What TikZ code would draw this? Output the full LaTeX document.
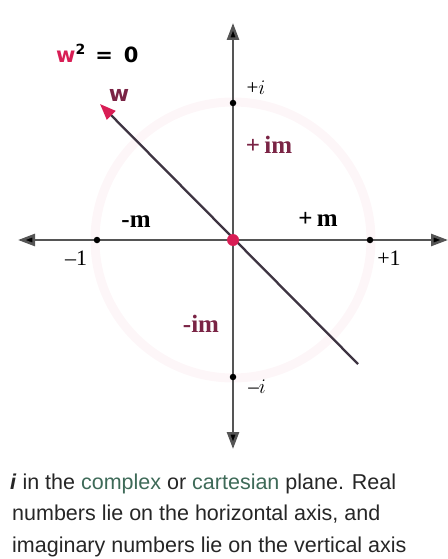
\documentclass[tikz,border=0pt]{standalone}
\usepackage{fontspec}
\setmainfont{Liberation Sans}
\newfontfamily\serifnum{Liberation Serif}
\newfontfamily\verd{DejaVu Sans}
\usetikzlibrary{arrows.meta}
\definecolor{axisgray}{HTML}{555555}
\definecolor{crim}{HTML}{D81E55}
\definecolor{imred}{HTML}{7A2445}
\definecolor{linkgreen}{HTML}{3E6A58}
\definecolor{linegray}{HTML}{3E3442}
\definecolor{captext}{HTML}{262626}
\begin{document}
\begin{tikzpicture}[x=1pt,y=-1pt,
  axis/.style={draw=axisgray,line width=2.6pt,-{Triangle[length=17pt,width=12pt,fill=black]}},
  tick/.style={circle,fill=black,inner sep=0pt,minimum size=6.5pt},
  numlab/.style={font=\serifnum\fontsize{22}{22}\selectfont,text=black,anchor=base,inner sep=0pt},
  ilab/.style={font=\serifnum\fontsize{21}{21}\selectfont,text=black,anchor=base,inner sep=0pt},
  mlab/.style={font=\serifnum\bfseries\fontsize{25}{25}\selectfont,text=black,anchor=base,inner sep=0pt},
  imlab/.style={font=\serifnum\bfseries\fontsize{25}{25}\selectfont,text=imred,anchor=base,inner sep=0pt},
  caption/.style={font=\fontsize{21.5}{21.5}\selectfont,text=captext,anchor=base west,inner sep=0pt}]
\useasboundingbox (0,0) rectangle (447,559);
\draw[crim!4,line width=9pt] (233,240) circle (138);
\coordinate (O) at (233,240);
\coordinate (L) at (18,240);
\coordinate (R) at (448,240);
\coordinate (T) at (233,23);
\coordinate (B) at (233,449);
\draw[axis] (O) -- (R);
\draw[axis] (O) -- (L);
\draw[axis] (O) -- (T);
\draw[axis] (O) -- (B);
\node[tick] (m1) at (97,240) {};
\node[tick] (p1) at (370,240) {};
\node[tick] (pi) at (233,103) {};
\node[tick] (ni) at (233,377) {};
\coordinate (wend) at (358,364);
\coordinate (wtip) at (100,104);
\draw[linegray,line width=2.3pt,-{Triangle[length=16pt,width=12pt,fill=crim,color=crim]}] (wend) -- (wtip);
\node[circle,fill=crim,inner sep=0pt,minimum size=12pt] (dot) at (O) {};
\node[numlab] (lm1) at (76,265) {–1};
\node[numlab] (lp1) at (389,265) {+1};
\node[ilab] (lpi) at (256,95) {+$i$};
\node[ilab] (lni) at (257,393) {–$i$};
\node[mlab] (nm) at (136,227) {-m};
\node[mlab] (pm) at (318,226) {+\,m};
\node[imlab] (pim) at (269,153) {+\,im};
\node[imlab] (nim) at (201,332) {-im};
\node[font=\verd\bfseries\fontsize{22}{22}\selectfont,text=imred,anchor=base,inner sep=0pt] (wl) at (119,102) {w};
\node[font=\verd\bfseries\fontsize{21}{21}\selectfont,anchor=base west,inner sep=0pt] (eq) at (56,63) {\textcolor{crim}{w}\raisebox{8pt}{\fontsize{14}{14}\selectfont 2}\hspace{10pt}=\hspace{11pt}0};
\node[caption] (c1) at (10,489) {\textit{\textbf{i}} in the \textcolor{linkgreen}{complex} or \textcolor{linkgreen}{cartesian} plane. Real};
\node[caption] (c2) at (12,520) {numbers lie on the horizontal axis, and};
\node[caption] (c3) at (12,552) {imaginary numbers lie on the vertical axis};
\end{tikzpicture}
\end{document}
